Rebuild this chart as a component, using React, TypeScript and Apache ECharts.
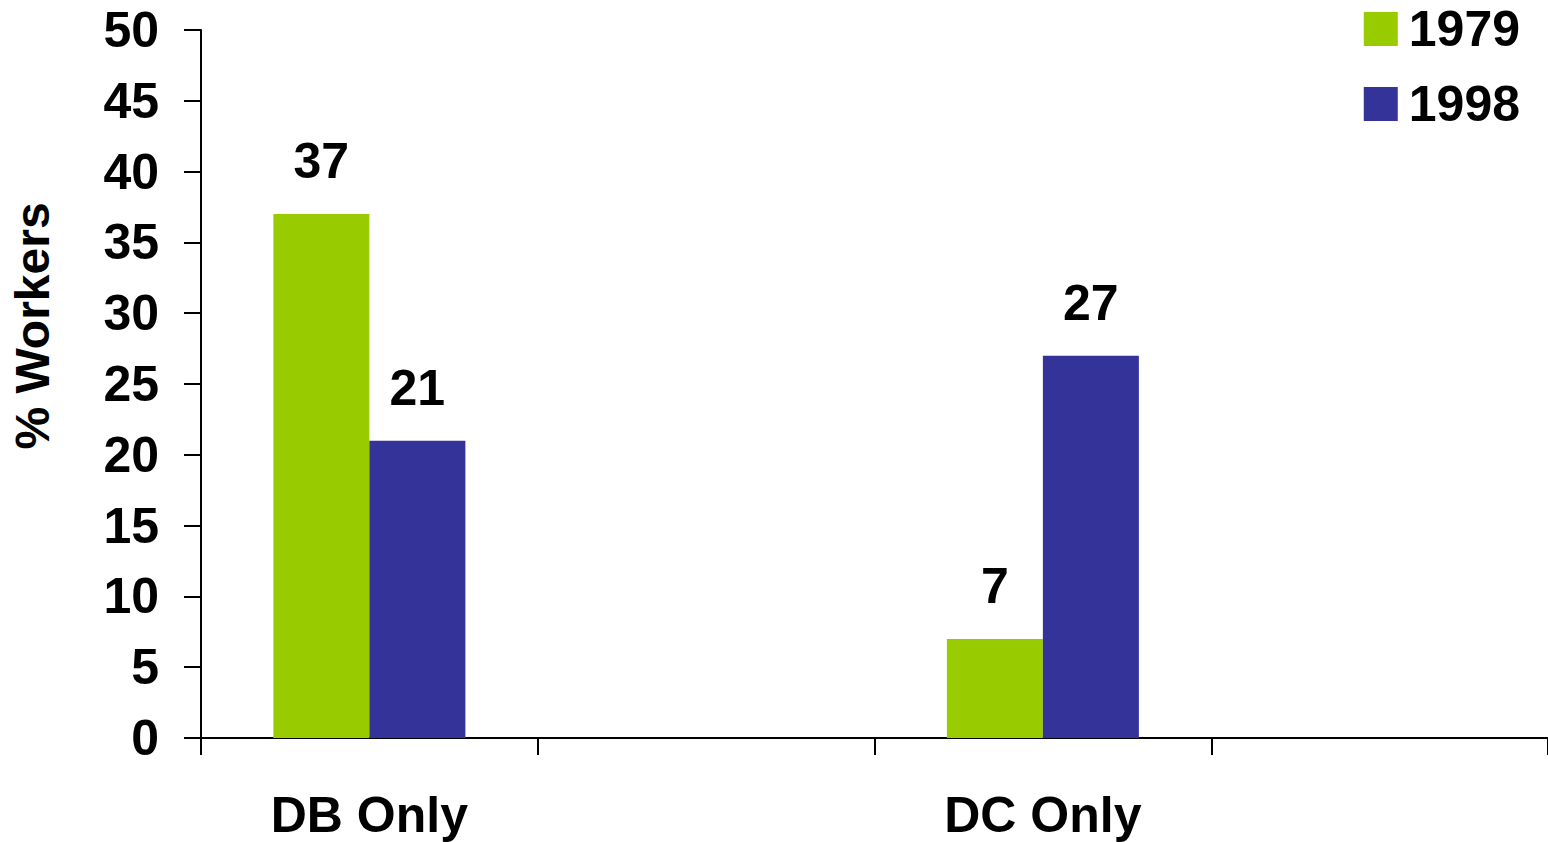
import React, { useEffect, useRef } from "react";
import * as echarts from "echarts";

const categories = ["DB Only", "", "DC Only", ""];
const values1979 = [37, null, 7, null];
const values1998 = [21, null, 27, null];
const seriesNames = ["1979", "1998"];
const yTicks = { min: 0, max: 50, interval: 5 };
const yAxisTitle = "% Workers";

const FONT = "'Liberation Sans', Arial, sans-serif";
const FS = 50;

export default function App() {
  const ref = useRef<HTMLDivElement>(null);
  useEffect(() => {
    document.body.style.margin = "0";
    const chart = echarts.init(ref.current!, null, { renderer: "svg" });
    const labelStyle = {
      show: true,
      position: "top",
      distance: 28,
      color: "#000",
      fontSize: FS,
      fontWeight: "bold",
      fontFamily: FONT,
    };
    chart.setOption({
      animation: false,
      textStyle: { fontFamily: FONT },
      grid: { left: 201, width: 1351, top: 30, bottom: 104, containLabel: false },
      legend: {
        orient: "vertical",
        right: 28,
        top: 4,
        padding: 0,
        itemGap: 25,
        itemWidth: 34,
        itemHeight: 34,
        icon: "rect",
        data: seriesNames,
        textStyle: {
          fontSize: FS,
          fontWeight: "bold",
          color: "#000",
          fontFamily: FONT,
          padding: [0, 0, 0, 6],
        },
      },
      xAxis: {
        type: "category",
        data: categories,
        axisLine: { lineStyle: { color: "#000", width: 2 } },
        axisTick: { show: true, length: 17, lineStyle: { color: "#000", width: 2 } },
        axisLabel: {
          margin: 52,
          color: "#000",
          fontSize: FS,
          fontWeight: "bold",
          fontFamily: FONT,
        },
      },
      yAxis: {
        type: "value",
        min: yTicks.min,
        max: yTicks.max,
        interval: yTicks.interval,
        splitLine: { show: false },
        axisLine: { show: true, lineStyle: { color: "#000", width: 2 } },
        axisTick: { show: true, length: 17, lineStyle: { color: "#000", width: 2 } },
        axisLabel: {
          margin: 42,
          color: "#000",
          fontSize: FS,
          fontWeight: "bold",
          fontFamily: FONT,
        },
      },
      graphic: [
        {
          type: "text",
          x: 32,
          y: 326,
          rotation: Math.PI / 2,
          style: {
            text: yAxisTitle,
            fontSize: 48,
            fontWeight: "bold",
            fontFamily: FONT,
            fill: "#000",
            align: "center",
            verticalAlign: "middle",
          },
        },
      ],
      series: [
        {
          name: seriesNames[0],
          type: "bar",
          data: values1979,
          barWidth: 96,
          barGap: "0%",
          itemStyle: { color: "#99CC00" },
          label: labelStyle,
        },
        {
          name: seriesNames[1],
          type: "bar",
          data: values1998,
          barWidth: 96,
          barGap: "0%",
          itemStyle: { color: "#333399" },
          label: labelStyle,
        },
      ],
    });
    return () => chart.dispose();
  }, []);
  return <div ref={ref} style={{ width: 1548, height: 842 }} />;
}
